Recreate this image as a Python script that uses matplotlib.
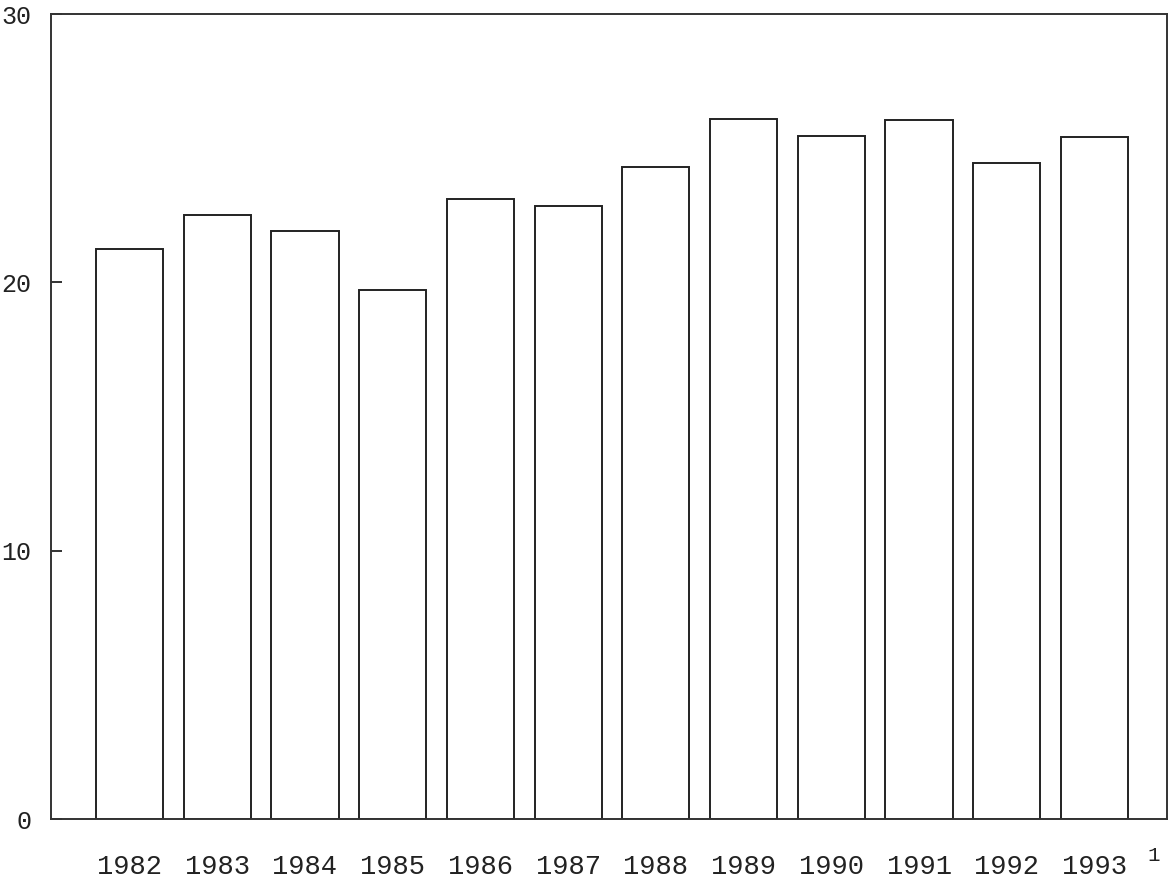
import matplotlib
matplotlib.use("Agg")
import matplotlib.pyplot as plt

years = ["1982", "1983", "1984", "1985", "1986", "1987", "1988", "1989", "1990", "1991", "1992", "1993"]
values = [21.25, 22.5, 21.9, 19.7, 23.1, 22.85, 24.3, 26.1, 25.45, 26.05, 24.45, 25.4]
yticks = [0, 10, 20, 30]

plt.rcParams['font.family'] = ['Liberation Mono', 'DejaVu Sans Mono']

fig = plt.figure(figsize=(11.7, 8.8), dpi=100)
ax = fig.add_axes([51/1170, 1 - 819/880, (1167-51)/1170, (819-14)/880])

x = list(range(len(years)))
ax.bar(x, values, width=0.765, facecolor='white', edgecolor='#222222', linewidth=1.4)

ax.set_xlim(-0.895, 11.827)
ax.set_ylim(0, 30)
ax.set_yticks(yticks)
ax.set_yticklabels([str(t) for t in yticks], fontsize=18, color='#222222')
ax.tick_params(axis='y', direction='in', length=8, width=1.3, pad=14, colors='#222222')
ax.set_xticks(x)
ax.set_xticklabels(years, fontsize=19.5, color='#222222')
ax.tick_params(axis='x', length=0, pad=25)
for s in ax.spines.values():
    s.set_linewidth(1.4)
    s.set_color('#333333')

ax.text(11.68, -1.35, "1", fontsize=15, ha='center', va='center', color='#222222')

fig.savefig("out.png", dpi=100)
